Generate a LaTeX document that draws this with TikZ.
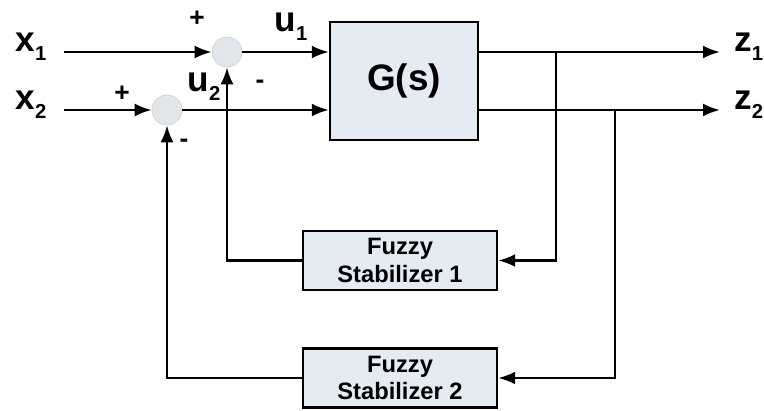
\documentclass[tikz,border=0pt]{standalone}
\usepackage{fontspec}
\setmainfont{Liberation Sans}
\usetikzlibrary{arrows.meta,positioning,calc}

\definecolor{boxfill}{RGB}{228,235,243}
\definecolor{sumfill}{RGB}{226,230,234}

\newcommand{\lowidx}[1]{\raisebox{-0.5ex}{\fontsize{11.5}{11.5}\selectfont #1}}

\tikzset{
  sig/.style={line width=1.4pt, -{Latex[length=3.4mm,width=2.6mm]}},
  sumnode/.style={circle, draw=gray!35, fill=sumfill, minimum size=0.6cm, inner sep=0pt},
  gblock/.style={draw, line width=1.4pt, fill=boxfill, minimum width=2.96cm, minimum height=2.36cm,
                 font=\fontsize{21}{21}\selectfont\bfseries},
  fuzzybox/.style={draw, line width=1.4pt, fill=boxfill, minimum width=3.88cm, minimum height=1.18cm,
                   align=center, inner sep=1pt, font=\fontsize{13.5}{15.5}\selectfont\bfseries},
  lbl/.style={font=\fontsize{20}{20}\selectfont\bfseries, inner sep=2pt},
  sign/.style={font=\fontsize{15}{15}\selectfont\bfseries, inner sep=0pt}
}

\begin{document}
\begin{tikzpicture}[x=0.02cm, y=-0.02cm]
  \useasboundingbox (0,0) rectangle (764,411);

  % summing junctions and blocks
  \node[sumnode] (s1) at (227,52) {};
  \node[sumnode] (s2) at (167,110) {};
  \node[gblock] (G) at (404,81) {G(s)};
  \node[fuzzybox] (f1) at (400,260.5) {Fuzzy\\Stabilizer 1};
  \node[fuzzybox] (f2) at (400,378) {Fuzzy\\Stabilizer 2};

  % inputs and outputs
  \node[lbl] (x1) at (31,47) {x\lowidx{1}};
  \node[lbl] (x2) at (31,105) {x\lowidx{2}};
  \node[lbl, anchor=west, inner xsep=8pt] (z1) at (720,47) {z\lowidx{1}};
  \node[lbl, anchor=west, inner xsep=8pt] (z2) at (720,105) {z\lowidx{2}};
  \coordinate (b1) at (556,52);
  \coordinate (b2) at (615,110);

  % forward path
  \draw[sig] ([xshift=8pt]x1.east |- s1) -- (s1.west);
  \draw[sig] ([xshift=8pt]x2.east |- s2) -- (s2.west);
  \draw[sig] (s1.east) -- (G.west |- s1);
  \draw[sig] (s2.east) -- (G.west |- s2);
  \draw[sig] (G.east |- s1) -- (z1.west |- s1);
  \draw[sig] (G.east |- s2) -- (z2.west |- s2);

  % feedback loops
  \draw[sig] (b1) |- (f1.east);
  \draw[sig] (b2) |- (f2.east);
  \draw[sig] (f1.west) -| (s1.south);
  \draw[sig] (f2.west) -| (s2.south);

  % signal names and signs
  \node[lbl] (u1) at (291,27) {u\lowidx{1}};
  \node[lbl] (u2) at (204,87) {u\lowidx{2}};
  \node[sign] (p1) at (197,19) {+};
  \node[sign] (m1) at (260,84) {-};
  \node[sign] (p2) at (122,94) {+};
  \node[sign] (m2) at (184,143) {-};
\end{tikzpicture}
\end{document}
